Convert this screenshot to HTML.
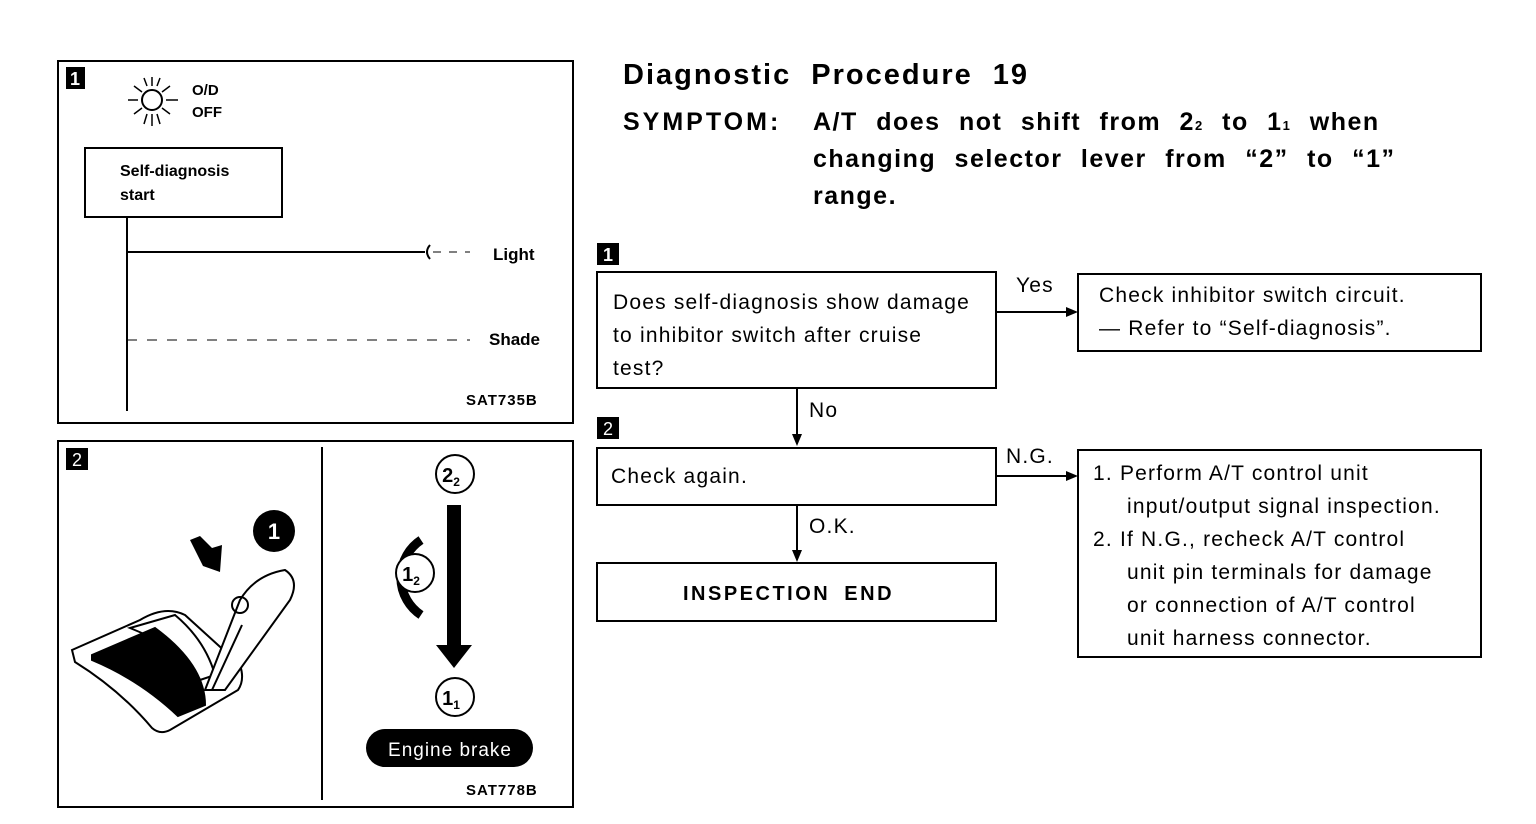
<!DOCTYPE html>
<html><head><meta charset="utf-8"><style>
html,body{margin:0;padding:0;background:#fff;}
svg{display:block;font-family:"Liberation Sans",sans-serif;}
</style></head><body>
<svg width="1536" height="824" viewBox="0 0 1536 824" xmlns="http://www.w3.org/2000/svg">
<rect width="1536" height="824" fill="#fff"/>
<g stroke="#000" fill="none" stroke-width="2">
<rect x="58" y="61" width="515" height="362"/>
<rect x="85" y="148" width="197" height="69"/>
<line x1="127" y1="217" x2="127" y2="411"/>
<line x1="127" y1="252" x2="425" y2="252"/>
<path d="M430 245 q-6 7 0 14" />
<line x1="433" y1="252" x2="470" y2="252" stroke-dasharray="8,8" stroke-width="1"/>
<line x1="127" y1="340" x2="470" y2="340" stroke-dasharray="10,10" stroke-width="1"/>
<circle cx="152" cy="100" r="10"/>
<g stroke-width="1.5">
<line x1="128" y1="100" x2="138" y2="100"/><line x1="166" y1="100" x2="178" y2="100"/>
<line x1="152" y1="77" x2="152" y2="86"/><line x1="152" y1="114" x2="152" y2="126"/>
<line x1="134" y1="86" x2="142" y2="92"/><line x1="170" y1="86" x2="162" y2="92"/>
<line x1="134" y1="114" x2="142" y2="108"/><line x1="170" y1="114" x2="162" y2="108"/>
<line x1="144" y1="78" x2="147" y2="86"/><line x1="160" y1="78" x2="157" y2="86"/>
<line x1="144" y1="124" x2="147" y2="114"/><line x1="160" y1="124" x2="157" y2="114"/>
</g>
<rect x="58" y="441" width="515" height="366"/>
<line x1="322" y1="447" x2="322" y2="800"/>
<path d="M72 650 L140 620 Q165 605 185 615 L240 665 Q245 680 238 690 L170 730 Q160 735 152 728 Q120 690 75 662 Z"/>
<path d="M92 655 L155 628 Q205 665 205 705 L178 716 Q140 680 92 660 Z" fill="#000"/>
<path d="M130 628 L175 615 Q205 640 215 675 L200 680 Q185 650 130 628 Z"/>
<path d="M205 690 L240 600 Q255 575 285 570 Q300 580 290 600 L225 690 Z" fill="#fff"/>
<circle cx="240" cy="605" r="8"/>
<line x1="212" y1="690" x2="242" y2="625"/>
</g>
<path d="M190 540 L200 536 L212 548 L222 545 L220 572 L203 566 Z" fill="#000"/>
<circle cx="274" cy="531" r="21" fill="#000"/>
<text x="274" y="539" font-size="22" font-weight="bold" fill="#fff" text-anchor="middle">1</text>
<path d="M421 540 A45 45 0 0 0 421 615" stroke="#000" stroke-width="9" fill="none"/>
<rect x="447" y="505" width="14" height="140" fill="#000"/>
<path d="M436 645 L472 645 L454 668 Z" fill="#000"/>
<g stroke="#000" stroke-width="2" fill="#fff">
<circle cx="455" cy="474" r="19"/><circle cx="415" cy="573" r="19"/><circle cx="455" cy="697" r="19"/>
</g>
<g font-weight="bold" font-size="20" text-anchor="middle">
<text x="451" y="482">2<tspan font-size="12" dy="4">2</tspan></text>
<text x="411" y="581">1<tspan font-size="12" dy="4">2</tspan></text>
<text x="451" y="705">1<tspan font-size="12" dy="4">1</tspan></text>
</g>
<rect x="366" y="729" width="167" height="38" rx="19" fill="#000"/>
<text x="450" y="756" font-size="19" fill="#fff" text-anchor="middle" letter-spacing="1">Engine brake</text>
<rect x="66" y="67" width="19" height="22" fill="#000"/><text x="75" y="85" font-size="18" fill="#fff" text-anchor="middle" font-weight="bold">1</text>
<rect x="66" y="448" width="22" height="22" fill="#000"/><text x="77" y="466" font-size="18" fill="#fff" text-anchor="middle">2</text>
<g font-weight="bold" font-size="15">
<text x="192" y="95">O/D</text><text x="192" y="117">OFF</text>
<text x="120" y="176" font-size="16">Self-diagnosis</text><text x="120" y="200" font-size="16">start</text>
<text x="493" y="260" font-size="17">Light</text>
<text x="489" y="345" font-size="17">Shade</text>
<text x="466" y="405" font-size="15" letter-spacing="1">SAT735B</text>
<text x="466" y="795" font-size="15" letter-spacing="1">SAT778B</text>
</g>
<g font-weight="bold" fill="#000">
<text x="623" y="84" font-size="29" letter-spacing="2" word-spacing="10">Diagnostic Procedure 19</text>
<text x="623" y="130" font-size="25" letter-spacing="3">SYMPTOM:</text>
<text x="813" y="130" font-size="25" letter-spacing="1.5" word-spacing="10">A/T does not shift from 2<tspan font-size="13">2</tspan> to 1<tspan font-size="13">1</tspan> when</text>
<text x="813" y="167" font-size="25" letter-spacing="1.5" word-spacing="10">changing selector lever from “2” to “1”</text>
<text x="813" y="204" font-size="25" letter-spacing="1.5">range.</text>
</g>
<rect x="597" y="243" width="22" height="22" fill="#000"/><text x="608" y="261" font-size="18" fill="#fff" text-anchor="middle" font-weight="bold">1</text>
<rect x="597" y="417" width="22" height="22" fill="#000"/><text x="608" y="435" font-size="18" fill="#fff" text-anchor="middle">2</text>
<g stroke="#000" stroke-width="2" fill="none">
<rect x="597" y="272" width="399" height="116"/>
<rect x="1078" y="274" width="403" height="77"/>
<rect x="597" y="448" width="399" height="57"/>
<rect x="597" y="563" width="399" height="58"/>
<rect x="1078" y="450" width="403" height="207"/>
<line x1="996" y1="312" x2="1070" y2="312"/>
<line x1="996" y1="476" x2="1070" y2="476"/>
<line x1="797" y1="388" x2="797" y2="436"/>
<line x1="797" y1="505" x2="797" y2="553"/>
</g>
<g fill="#000">
<path d="M1078 312 L1066 307 L1066 317 Z"/>
<path d="M1078 476 L1066 471 L1066 481 Z"/>
<path d="M797 446 L792 434 L802 434 Z"/>
<path d="M797 562 L792 550 L802 550 Z"/>
</g>
<g font-size="21" fill="#000" letter-spacing="1.2">
<text x="613" y="309">Does self-diagnosis show damage</text>
<text x="613" y="342">to inhibitor switch after cruise</text>
<text x="613" y="375">test?</text>
<text x="1016" y="292">Yes</text>
<text x="1099" y="302">Check inhibitor switch circuit.</text>
<text x="1099" y="335">— Refer to “Self-diagnosis”.</text>
<text x="809" y="417">No</text>
<text x="611" y="483">Check again.</text>
<text x="1006" y="463">N.G.</text>
<text x="809" y="533">O.K.</text>
<text x="683" y="600" font-weight="bold" font-size="20" letter-spacing="2.5" word-spacing="6">INSPECTION END</text>
<text x="1093" y="480">1. Perform A/T control unit</text>
<text x="1127" y="513">input/output signal inspection.</text>
<text x="1093" y="546">2. If N.G., recheck A/T control</text>
<text x="1127" y="579">unit pin terminals for damage</text>
<text x="1127" y="612">or connection of A/T control</text>
<text x="1127" y="645">unit harness connector.</text>
</g>
</svg>
</body></html>
